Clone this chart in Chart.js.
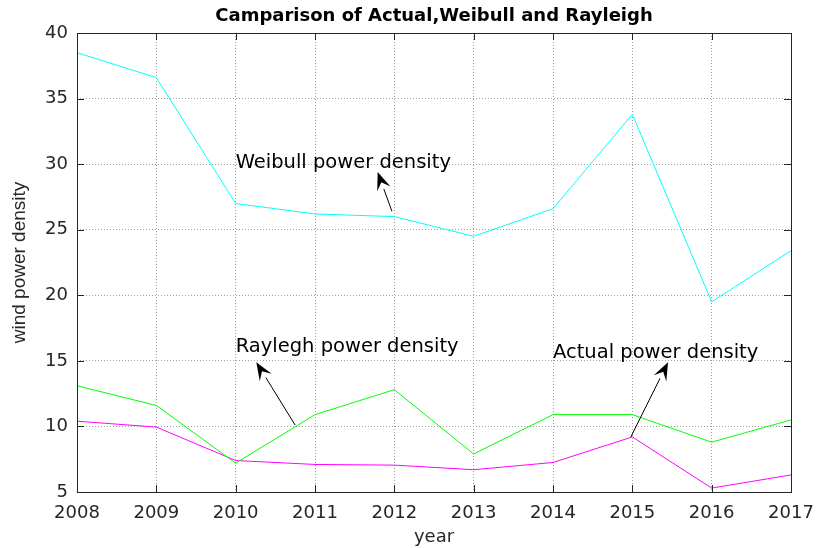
<!DOCTYPE html>
<html>
<head>
<meta charset="utf-8">
<script src="https://cdn.jsdelivr.net/npm/chart.js@4.4.0/dist/chart.umd.min.js"></script>
<style>
  html, body { margin: 0; padding: 0; background: #fff; }
  #wrap { width: 818px; height: 548px; }
</style>
</head>
<body>
<div id="wrap"><canvas id="chart" width="818" height="548"></canvas></div>
<script>
// values
var years = [2008, 2009, 2010, 2011, 2012, 2013, 2014, 2015, 2016, 2017];
var weibull = [38.5, 36.6, 27.0, 26.2, 26.0, 24.5, 26.6, 33.8, 19.5, 23.4];
var rayleigh = [13.1, 11.6, 7.2, 10.9, 12.8, 7.9, 10.9, 10.9, 8.8, 10.5];
var actual = [10.4, 9.95, 7.4, 7.1, 7.05, 6.7, 7.25, 9.2, 5.3, 6.3];
var yTicks = [5, 10, 15, 20, 25, 30, 35, 40];
var chartTitle = 'Camparison of Actual,Weibull and Rayleigh';

// text arrows, in data units
var notes = [
  { text: 'Weibull power density', at: [2010.0, 30.1], tail: [2011.97, 26.4], tip: [2011.79, 29.4] },
  { text: 'Raylegh power density', at: [2010.0, 16.05], tail: [2010.75, 10.1], tip: [2010.26, 14.9] },
  { text: 'Actual power density', at: [2014.0, 15.6], tail: [2014.98, 9.18], tip: [2015.45, 14.9] }
];

function toPoints(vals) {
  return vals.map(function(v, i) { return { x: years[i], y: v }; });
}

var tickFont = { family: 'DejaVu Sans', size: 18 };
var gridStyle = { color: '#a0a0a0', drawTicks: false, lineWidth: 1 };
var borderStyle = { display: false, dash: [1, 2] };

var boxPlugin = {
  id: 'box',
  afterDraw: function(chart) {
    var ctx = chart.ctx;
    var a = chart.chartArea;
    var xs = chart.scales.x, ys = chart.scales.y;
    ctx.save();
    // title centred over the plot box
    ctx.fillStyle = '#000';
    ctx.font = 'bold 18px "DejaVu Sans"';
    ctx.textAlign = 'center';
    ctx.textBaseline = 'middle';
    ctx.fillText(chartTitle, (a.left + a.right) / 2, 16);

    ctx.strokeStyle = '#262626';
    ctx.lineWidth = 1;
    ctx.strokeRect(a.left + 0.5, a.top + 0.5, a.right - a.left, a.bottom - a.top);
    // inner ticks, all four sides
    ctx.beginPath();
    years.forEach(function(yr) {
      var px = Math.round(xs.getPixelForValue(yr)) + 0.5;
      ctx.moveTo(px, a.bottom); ctx.lineTo(px, a.bottom - 7);
      ctx.moveTo(px, a.top); ctx.lineTo(px, a.top + 7);
    });
    yTicks.forEach(function(t) {
      var py = Math.round(ys.getPixelForValue(t)) + 0.5;
      ctx.moveTo(a.left, py); ctx.lineTo(a.left + 7, py);
      ctx.moveTo(a.right, py); ctx.lineTo(a.right - 7, py);
    });
    ctx.stroke();

    // annotations
    ctx.fillStyle = '#000';
    ctx.strokeStyle = '#000';
    ctx.font = '19.5px "DejaVu Sans"';
    ctx.textBaseline = 'middle';
    ctx.textAlign = 'left';
    notes.forEach(function(n) {
      ctx.fillText(n.text, xs.getPixelForValue(n.at[0]), ys.getPixelForValue(n.at[1]));
      var x0 = xs.getPixelForValue(n.tail[0]), y0 = ys.getPixelForValue(n.tail[1]);
      var x1 = xs.getPixelForValue(n.tip[0]), y1 = ys.getPixelForValue(n.tip[1]);
      var ang = Math.atan2(y1 - y0, x1 - x0);
      var len = 18, half = 7;
      var bx = x1 - len * Math.cos(ang), by = y1 - len * Math.sin(ang);
      ctx.beginPath();
      ctx.moveTo(x0, y0);
      ctx.lineTo(bx, by);
      ctx.stroke();
      ctx.beginPath();
      ctx.moveTo(x1, y1);
      ctx.lineTo(bx + half * Math.sin(ang), by - half * Math.cos(ang));
      ctx.lineTo(x1 - 0.6 * len * Math.cos(ang), y1 - 0.6 * len * Math.sin(ang));
      ctx.lineTo(bx - half * Math.sin(ang), by + half * Math.cos(ang));
      ctx.closePath();
      ctx.fill();
    });
    ctx.restore();
  }
};

var ctx = document.getElementById('chart');
var chart = new Chart(ctx, {
  type: 'line',
  data: {
    datasets: [
      { label: 'Weibull', data: toPoints(weibull), borderColor: '#00ffff', borderWidth: 1, pointRadius: 0, tension: 0 },
      { label: 'Rayleigh', data: toPoints(rayleigh), borderColor: '#00ff00', borderWidth: 1, pointRadius: 0, tension: 0 },
      { label: 'Actual', data: toPoints(actual), borderColor: '#ff00ff', borderWidth: 1, pointRadius: 0, tension: 0 }
    ]
  },
  options: {
    responsive: false,
    animation: false,
    layout: { padding: { left: 0, right: 27, top: 33, bottom: 0 } },
    plugins: {
      legend: { display: false },
      tooltip: { enabled: false },
      title: { display: false }
    },
    scales: {
      x: {
        type: 'linear',
        min: years[0],
        max: years[years.length - 1],
        afterFit: function(s) { s.height = 56; s.paddingLeft = 0; s.paddingRight = 0; },
        afterBuildTicks: function(s) { s.ticks = years.map(function(v) { return { value: v }; }); },
        ticks: {
          color: '#262626', font: tickFont, padding: 11, maxRotation: 0, autoSkip: false,
          callback: function(v) { return String(v); }
        },
        grid: gridStyle,
        border: borderStyle,
        title: { display: true, text: 'year', color: '#262626', font: tickFont, padding: { top: 0, bottom: 0 } }
      },
      y: {
        type: 'linear',
        min: yTicks[0],
        max: yTicks[yTicks.length - 1],
        afterFit: function(s) { s.width = 77; s.paddingTop = 0; s.paddingBottom = 0; },
        afterBuildTicks: function(s) { s.ticks = yTicks.map(function(v) { return { value: v }; }); },
        ticks: { color: '#262626', font: tickFont, padding: 9 },
        grid: gridStyle,
        border: borderStyle,
        title: { display: true, text: 'wind power density', color: '#262626', font: { family: 'Liberation Sans', size: 19 }, padding: { top: 8, bottom: 0 } }
      }
    }
  },
  plugins: [boxPlugin]
});
</script>
</body>
</html>
